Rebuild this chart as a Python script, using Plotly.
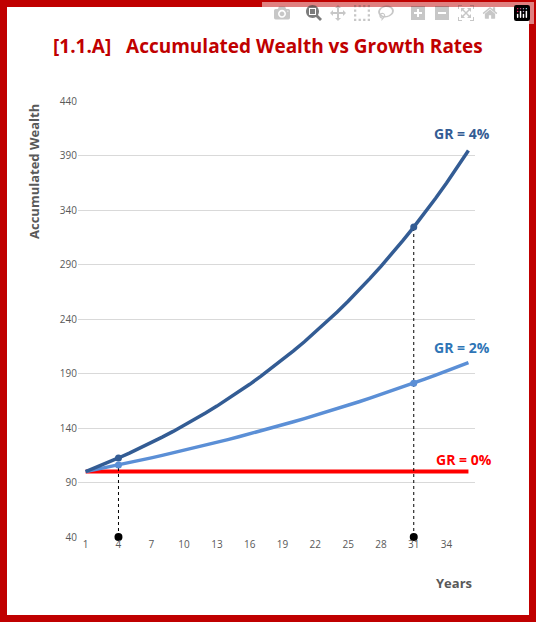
import plotly.graph_objects as go

years = list(range(1, 37))
gr4 = [100, 104, 108.16, 112.49, 116.99, 121.67, 126.53, 131.59, 136.86, 142.33,
       148.02, 153.95, 160.10, 166.51, 173.17, 180.09, 187.30, 194.79, 202.58, 210.68,
       219.11, 227.88, 236.99, 246.47, 256.33, 266.58, 277.25, 288.34, 299.87, 311.87,
       324.34, 337.31, 350.81, 364.84, 379.43, 394.61]
gr2 = [100, 102, 104.04, 106.12, 108.24, 110.41, 112.62, 114.87, 117.17, 119.51,
       121.90, 124.34, 126.82, 129.36, 131.95, 134.59, 137.28, 140.02, 142.82, 145.68,
       148.59, 151.57, 154.60, 157.69, 160.84, 164.06, 167.34, 170.69, 174.10, 177.58,
       181.14, 184.76, 188.45, 192.22, 196.07, 199.99]
gr0 = [100] * 36
mark_years = [4, 31]
x_ticks = list(range(1, 35, 3))
y_ticks = list(range(40, 441, 50))

C4, C2, C0 = "#335c94", "#5b8fd6", "#ff0000"
fig = go.Figure()
fig.add_trace(go.Scatter(x=years, y=gr0, mode="lines", line=dict(color=C0, width=4)))
fig.add_trace(go.Scatter(x=years, y=gr2, mode="lines", line=dict(color=C2, width=3.5)))
fig.add_trace(go.Scatter(x=years, y=gr4, mode="lines", line=dict(color=C4, width=3.5)))
m4 = [gr4[y - 1] for y in mark_years]
m2 = [gr2[y - 1] for y in mark_years]
for yr, v in zip(mark_years, m4):
    fig.add_trace(go.Scatter(x=[yr, yr], y=[40, v], mode="lines",
                             line=dict(color="black", width=1, dash="dot")))
fig.add_trace(go.Scatter(x=mark_years, y=m4, mode="markers", marker=dict(color=C4, size=7)))
fig.add_trace(go.Scatter(x=mark_years, y=m2, mode="markers", marker=dict(color=C2, size=7)))
fig.add_trace(go.Scatter(x=mark_years, y=[40, 40], mode="markers", cliponaxis=False,
                         marker=dict(color="black", size=8)))

W, H = 536, 622
l, r, t, b = 78, 61, 101, 85
pw, ph = W - l - r, H - t - b
def px(x): return (x - l) / pw
def py(y): return (H - b - y) / ph

fig.add_shape(type="rect", xref="paper", yref="paper",
              x0=px(3.5), x1=px(W - 3.5), y0=py(H - 3.5), y1=py(3.5),
              line=dict(color="#c00000", width=7), layer="below")

font = "Open Sans"
ann = [
    ("[1.1.A]   Accumulated Wealth vs Growth Rates", W / 2, 46, "#c00000", 19, 0),
    ("GR = 4%", 462, 133, C4, 14, 0),
    ("GR = 2%", 462, 347, "#2e75b6", 14, 0),
    ("GR = 0%", 464, 459, "#ff0000", 14, 0),
    ("Years", 454, 583, "#595959", 13, 0),
    ("Accumulated Wealth", 34, 172, "#595959", 13, -90),
]
for text, x, y, c, s, ang in ann:
    fig.add_annotation(text=f"<b>{text}</b>", xref="paper", yref="paper", x=px(x), y=py(y),
                       showarrow=False, font=dict(color=c, size=s, family=font),
                       textangle=ang, xanchor="center", yanchor="middle")

fig.update_layout(
    width=W, height=H, margin=dict(l=l, r=r, t=t, b=b),
    paper_bgcolor="white", plot_bgcolor="white", showlegend=False,
    xaxis=dict(range=[0.3, 36.6], tickvals=x_ticks, showgrid=False, zeroline=False,
               showline=False, ticks="", tickfont=dict(size=10, color="#595959", family=font)),
    yaxis=dict(range=[40, 440], tickvals=y_ticks, showgrid=True, gridcolor="#d9d9d9",
               zeroline=False, showline=False, ticks="",
               tickfont=dict(size=10, color="#595959", family=font)),
)
fig.write_html("out.html", post_script="document.body.style.margin='0';document.body.style.overflow='hidden';")
